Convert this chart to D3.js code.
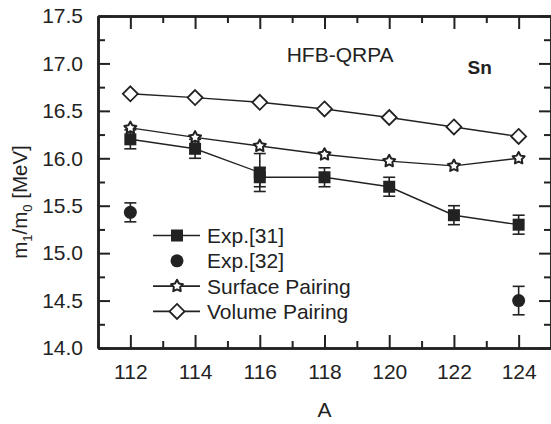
<!DOCTYPE html>
<html>
<head>
<meta charset="utf-8">
<script src="https://cdn.jsdelivr.net/npm/d3@7"></script>
<style>
  body { margin: 0; background: #fff; }
  svg text { font-family: "Liberation Sans", Arial, sans-serif; fill: #222; }
</style>
</head>
<body>
<div id="chart"></div>
<script>
// chart values
var massA = [112, 114, 116, 118, 120, 122, 124];
var volumePairing = [16.68, 16.64, 16.59, 16.52, 16.43, 16.33, 16.23];
var surfacePairing = [16.32, 16.22, 16.13, 16.04, 15.97, 15.92, 16.0];
// Exp.[31] has two values at A=116
var exp31A = [112, 114, 116, 116, 118, 120, 122, 124];
var exp31Val = [16.2, 16.1, 15.85, 15.8, 15.8, 15.7, 15.4, 15.3];
var exp31Err = [0.1, 0.1, 0.2, 0.1, 0.1, 0.1, 0.1, 0.1];
var exp32A = [112, 124];
var exp32Val = [15.43, 14.5];
var exp32Err = [0.1, 0.15];
var xTicks = [112, 114, 116, 118, 120, 122, 124];
var yTicks = [14.0, 14.5, 15.0, 15.5, 16.0, 16.5, 17.0, 17.5];
var legendNames = ["Exp.[31]", "Exp.[32]", "Surface Pairing", "Volume Pairing"];

var W = 551, H = 424;
var margin = { top: 16, right: 0, bottom: 76, left: 98 };
var width = W - margin.left - margin.right,
    height = H - margin.top - margin.bottom;
var ink = "#222";

var svg = d3.select("#chart").append("svg")
    .attr("width", W)
    .attr("height", H);

var g = svg.append("g")
    .attr("transform", "translate(" + margin.left + "," + margin.top + ")");

var x = d3.scaleLinear().domain([111, 125]).range([0, width]);
var y = d3.scaleLinear().domain([14, 17.5]).range([height, 0]);

// minor tick values
var xMinor = d3.range(111, 125, 1).filter(function(v) { return xTicks.indexOf(v) < 0; });
var yMinor = d3.range(14.25, 17.5, 0.5);

function styleAxis(sel) {
    sel.select(".domain").attr("stroke", ink).attr("stroke-width", 2.5);
    sel.selectAll(".tick line").attr("stroke", ink).attr("stroke-width", 2);
    sel.selectAll(".tick text").attr("font-size", 21).attr("fill", ink)
        .style("font-family", "'Liberation Sans', Arial, sans-serif");
}

// bottom axis
g.append("g")
    .attr("transform", "translate(0," + height + ")")
    .call(d3.axisBottom(x).tickValues(xTicks).tickSizeInner(-13).tickSizeOuter(0).tickPadding(16).tickFormat(d3.format("d")))
    .call(styleAxis);
g.append("g")
    .attr("transform", "translate(0," + height + ")")
    .call(d3.axisBottom(x).tickValues(xMinor).tickSizeInner(-7).tickSizeOuter(0).tickFormat(""))
    .call(styleAxis);

// top axis
g.append("g")
    .call(d3.axisTop(x).tickValues(xTicks).tickSizeInner(-13).tickSizeOuter(0).tickFormat(""))
    .call(styleAxis);
g.append("g")
    .call(d3.axisTop(x).tickValues(xMinor).tickSizeInner(-7).tickSizeOuter(0).tickFormat(""))
    .call(styleAxis);

// left axis
g.append("g")
    .call(d3.axisLeft(y).tickValues(yTicks).tickSizeInner(-12).tickSizeOuter(0).tickPadding(15).tickFormat(d3.format(".1f")))
    .call(styleAxis);
g.append("g")
    .call(d3.axisLeft(y).tickValues(yMinor).tickSizeInner(-7).tickSizeOuter(0).tickFormat(""))
    .call(styleAxis);

// right axis
g.append("g")
    .attr("transform", "translate(" + width + ",0)")
    .call(d3.axisRight(y).tickValues(yTicks).tickSizeInner(-12).tickSizeOuter(0).tickFormat(""))
    .call(styleAxis);
g.append("g")
    .attr("transform", "translate(" + width + ",0)")
    .call(d3.axisRight(y).tickValues(yMinor).tickSizeInner(-7).tickSizeOuter(0).tickFormat(""))
    .call(styleAxis);

// axis titles
svg.append("text")
    .attr("x", margin.left + width / 2)
    .attr("y", 417)
    .attr("text-anchor", "middle")
    .attr("font-size", 21)
    .text("A");

var yl = svg.append("text")
    .attr("transform", "translate(27,202) rotate(-90)")
    .attr("text-anchor", "middle")
    .attr("font-size", 20.5);
yl.append("tspan").text("m");
yl.append("tspan").attr("font-size", 13).attr("dy", 5).text("1");
yl.append("tspan").attr("dy", -5).text("/m");
yl.append("tspan").attr("font-size", 13).attr("dy", 5).text("0");
yl.append("tspan").attr("dy", -5).text(" [MeV]");

// annotations
g.append("text")
    .attr("x", x(116.83))
    .attr("y", y(17.02))
    .attr("font-size", 21)
    .text("HFB-QRPA");
g.append("text")
    .attr("x", x(122.42))
    .attr("y", y(16.89))
    .attr("font-size", 19)
    .attr("font-weight", "bold")
    .text("Sn");

var line = d3.line()
    .x(function(d) { return x(d[0]); })
    .y(function(d) { return y(d[1]); });

var volData = massA.map(function(a, i) { return [a, volumePairing[i]]; });
var surfData = massA.map(function(a, i) { return [a, surfacePairing[i]]; });
var e31Data = exp31A.map(function(a, i) { return [a, exp31Val[i], exp31Err[i]]; });
var e32Data = exp32A.map(function(a, i) { return [a, exp32Val[i], exp32Err[i]]; });

// lines
[volData, surfData, e31Data].forEach(function(d) {
    g.append("path")
        .datum(d)
        .attr("fill", "none")
        .attr("stroke", ink)
        .attr("stroke-width", 1.4)
        .attr("d", line);
});

// error bars
function errorBars(data) {
    var eb = g.append("g").attr("stroke", ink).attr("stroke-width", 1.6);
    data.forEach(function(d) {
        var cx = x(d[0]), top = y(d[1] + d[2]), bot = y(d[1] - d[2]);
        eb.append("line").attr("x1", cx).attr("x2", cx).attr("y1", top).attr("y2", bot);
        eb.append("line").attr("x1", cx - 6).attr("x2", cx + 6).attr("y1", top).attr("y2", top);
        eb.append("line").attr("x1", cx - 6).attr("x2", cx + 6).attr("y1", bot).attr("y2", bot);
    });
}
errorBars(e31Data);
errorBars(e32Data);

// markers: chunky five-point star like the original
var starPts = d3.range(10).map(function(k) {
    var r = k % 2 === 0 ? 6.3 : 3.3, a = Math.PI * k / 5 - Math.PI / 2;
    return [r * Math.cos(a), r * Math.sin(a)];
});
var starPath = "M" + starPts.join("L") + "Z";
var diamondPath = "M0,-7.5L7.5,0L0,7.5L-7.5,0Z";

function square(sel, cx, cy) {
    sel.append("rect").attr("x", cx - 6).attr("y", cy - 6).attr("width", 12).attr("height", 12)
        .attr("fill", ink);
}
function circle(sel, cx, cy) {
    sel.append("circle").attr("cx", cx).attr("cy", cy).attr("r", 6.5).attr("fill", ink);
}
function star(sel, cx, cy) {
    sel.append("path").attr("d", starPath).attr("transform", "translate(" + cx + "," + cy + ")")
        .attr("fill", "#fff").attr("stroke", ink).attr("stroke-width", 2)
        .attr("stroke-linejoin", "round");
}
function diamond(sel, cx, cy) {
    sel.append("path").attr("d", diamondPath).attr("transform", "translate(" + cx + "," + cy + ")")
        .attr("fill", "#fff").attr("stroke", ink).attr("stroke-width", 1.8);
}

volData.forEach(function(d) { diamond(g, x(d[0]), y(d[1])); });
surfData.forEach(function(d) { star(g, x(d[0]), y(d[1])); });
e31Data.forEach(function(d) { square(g, x(d[0]), y(d[1])); });
e32Data.forEach(function(d) { circle(g, x(d[0]), y(d[1])); });

// legend
var markers = [square, circle, star, diamond];
var hasLine = [true, false, true, true];
var legend = svg.append("g").attr("transform", "translate(153,235.5)");
legendNames.forEach(function(name, i) {
    var row = legend.append("g").attr("transform", "translate(0," + (i * 25.3) + ")");
    if (hasLine[i]) {
        row.append("line").attr("x1", 0).attr("x2", 47).attr("y1", 0).attr("y2", 0)
            .attr("stroke", ink).attr("stroke-width", 1.6);
    }
    markers[i](row, 24, 0);
    row.append("text")
        .attr("x", 54)
        .attr("y", 7.5)
        .attr("font-size", 21)
        .text(name);
});
</script>
</body>
</html>
